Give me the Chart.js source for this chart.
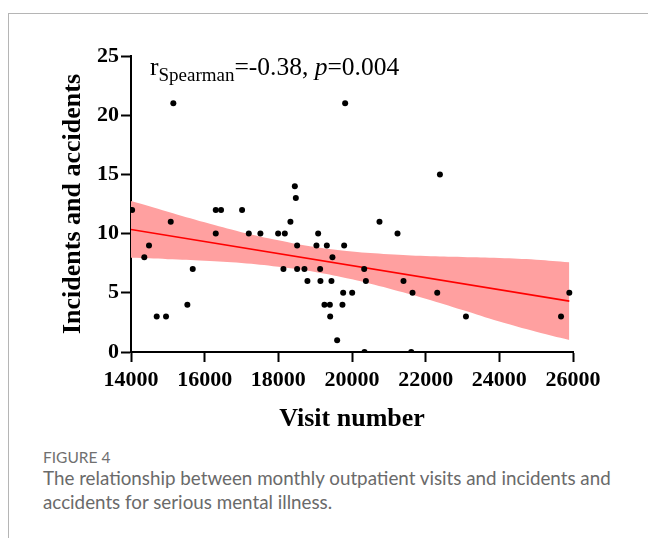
<!DOCTYPE html>
<html>
<head>
<meta charset="utf-8">
<script src="https://cdn.jsdelivr.net/npm/chart.js@4/dist/chart.umd.min.js"></script>
<style>
  html, body { margin: 0; padding: 0; background: #fff; }
  body { width: 648px; height: 538px; position: relative; overflow: hidden; }
  #frame { position: absolute; left: 8px; top: 13px; width: 660px; height: 560px;
           border-left: 1.5px solid #b5b5b5; border-top: 1.5px solid #b5b5b5; }
  #wrap { position: absolute; left: 0; top: 0; width: 648px; height: 440px; }
  #fig { position: absolute; left: 43px; top: 448px; font-family: Lato, "Open Sans", sans-serif;
         font-size: 15.5px; color: #707070; }
  #cap { position: absolute; left: 43px; top: 466px; width: 600px; font-family: Lato, "Open Sans", sans-serif;
         font-size: 18.8px; line-height: 24px; color: #6a6a6a; }
</style>
</head>
<body>
<div id="frame"></div>
<div id="wrap"><canvas id="c" width="648" height="440"></canvas></div>
<div id="fig">FIGURE 4</div>
<div id="cap">The relationship between monthly outpatient visits and incidents and<br>accidents for serious mental illness.</div>
<script>
// ---- data ----
const visitNumber = [14030, 15079, 14489, 14361, 15676, 15530, 14698, 14951, 16301, 16445,
  16301, 17016, 17198, 17513, 17994, 18176, 18448, 18475, 18328, 18510,
  18138, 18510, 18709, 18790, 19081, 19035, 19317, 19469, 19135, 19143,
  19442, 19252, 19399, 19407, 19597, 19787, 19760, 20005, 19741, 15149,
  19814, 22387, 20746, 21235, 20331, 20377, 21398, 21643, 22314, 23094,
  25675, 25900, 20339, 21608];
const incidents = [12, 11, 9, 8, 7, 4, 3, 3, 12, 12,
  10, 12, 10, 10, 10, 10, 14, 13, 11, 9,
  7, 7, 7, 6, 10, 9, 9, 8, 7, 6,
  6, 4, 4, 3, 1, 9, 5, 5, 4, 21,
  21, 15, 11, 10, 7, 6, 6, 5, 5, 3,
  3, 5, 0, 0];
const fitX = [14000, 25900];
const fitY = [10.35, 4.30];
const bandX = [14000, 15000, 16000, 17000, 18000, 19000, 20000, 21000, 22000, 23000, 24000, 25000, 25900];
const bandUpper = [12.75, 11.85, 10.95, 10.12, 9.44, 8.86, 8.48, 8.25, 8.10, 8.02, 7.94, 7.80, 7.58];
const bandLower = [7.95, 7.84, 7.71, 7.52, 7.20, 6.76, 6.14, 5.36, 4.50, 3.55, 2.58, 1.72, 1.02];
const xTicks = [14000, 16000, 18000, 20000, 22000, 24000, 26000];
const yTicks = [0, 5, 10, 15, 20, 25];
const xTitle = 'Visit number';
const yTitle = 'Incidents and accidents';

const pts = visitNumber.map((v, i) => ({ x: v, y: incidents[i] }));
const fitPts = fitX.map((v, i) => ({ x: v, y: fitY[i] }));
const upPts = bandX.map((v, i) => ({ x: v, y: bandUpper[i] }));
const loPts = bandX.map((v, i) => ({ x: v, y: bandLower[i] }));

const SERIF = '"Liberation Serif", "Times New Roman", serif';

const annot = {
  id: 'annot',
  afterDraw(chart) {
    const ctx = chart.ctx;
    ctx.save();
    ctx.fillStyle = '#000';
    ctx.textBaseline = 'alphabetic';
    ctx.textAlign = 'left';
    let x = 150;
    ctx.font = '25.5px ' + SERIF;
    ctx.fillText('r', x, 75); x += ctx.measureText('r').width;
    ctx.font = '19px ' + SERIF;
    ctx.fillText('Spearman', x, 81); x += ctx.measureText('Spearman').width;
    ctx.font = '25.5px ' + SERIF;
    ctx.fillText('=-0.38, ', x, 75); x += ctx.measureText('=-0.38, ').width;
    ctx.font = 'italic 25.5px ' + SERIF;
    ctx.fillText('p', x, 75); x += ctx.measureText('p').width;
    ctx.font = '25.5px ' + SERIF;
    ctx.fillText('=0.004', x, 75);
    ctx.restore();
  }
};

new Chart(document.getElementById('c'), {
  type: 'scatter',
  data: {
    datasets: [
      { label: 'points', data: pts, backgroundColor: '#000', borderColor: '#000',
        pointRadius: 3, pointBorderWidth: 0, showLine: false },
      { label: 'fit', type: 'line', data: fitPts, borderColor: '#ff0000', borderWidth: 1.6,
        pointRadius: 0, fill: false, tension: 0 },
      { label: 'upper', type: 'line', data: upPts, borderWidth: 0, borderColor: 'rgba(0,0,0,0)',
        backgroundColor: 'rgb(255,160,160)', pointRadius: 0, fill: '+1', tension: 0.4 },
      { label: 'lower', type: 'line', data: loPts, borderWidth: 0, borderColor: 'rgba(0,0,0,0)',
        pointRadius: 0, fill: false, tension: 0.4 }
    ]
  },
  options: {
    responsive: false,
    animation: false,
    events: [],
    layout: { padding: { left: 0, top: 56, right: 75, bottom: 0 } },
    plugins: { legend: { display: false }, tooltip: { enabled: false } },
    scales: {
      x: {
        type: 'linear', min: 14000, max: 26000,
        afterFit(s) { s.height = 88; },
        afterBuildTicks(s) { s.ticks = xTicks.map(v => ({ value: v })); },
        ticks: { color: '#000', font: { family: SERIF, size: 22, weight: 'bold' }, padding: 5,
                 maxRotation: 0, autoSkip: false, callback: v => String(v) },
        grid: { drawOnChartArea: false, drawTicks: true, tickLength: 10, tickWidth: 2, tickColor: '#000' },
        border: { display: true, color: '#000', width: 2 },
        title: { display: true, text: xTitle, color: '#000',
                 font: { family: SERIF, size: 26, weight: 'bold' }, padding: { top: 0, bottom: 5 } }
      },
      y: {
        type: 'linear', min: 0, max: 25,
        afterFit(s) { s.width = 131; },
        afterBuildTicks(s) { s.ticks = yTicks.map(v => ({ value: v })); },
        ticks: { color: '#000', font: { family: SERIF, size: 22, weight: 'bold' }, padding: 2,
                 callback: v => String(v) },
        grid: { drawOnChartArea: false, drawTicks: true, tickLength: 10, tickWidth: 2, tickColor: '#000' },
        border: { display: true, color: '#000', width: 2 },
        title: { display: true, text: yTitle, color: '#000',
                 font: { family: SERIF, size: 26, weight: 'bold' }, padding: { top: 58, bottom: 0 } }
      }
    }
  },
  plugins: [annot]
});
</script>
</body>
</html>
